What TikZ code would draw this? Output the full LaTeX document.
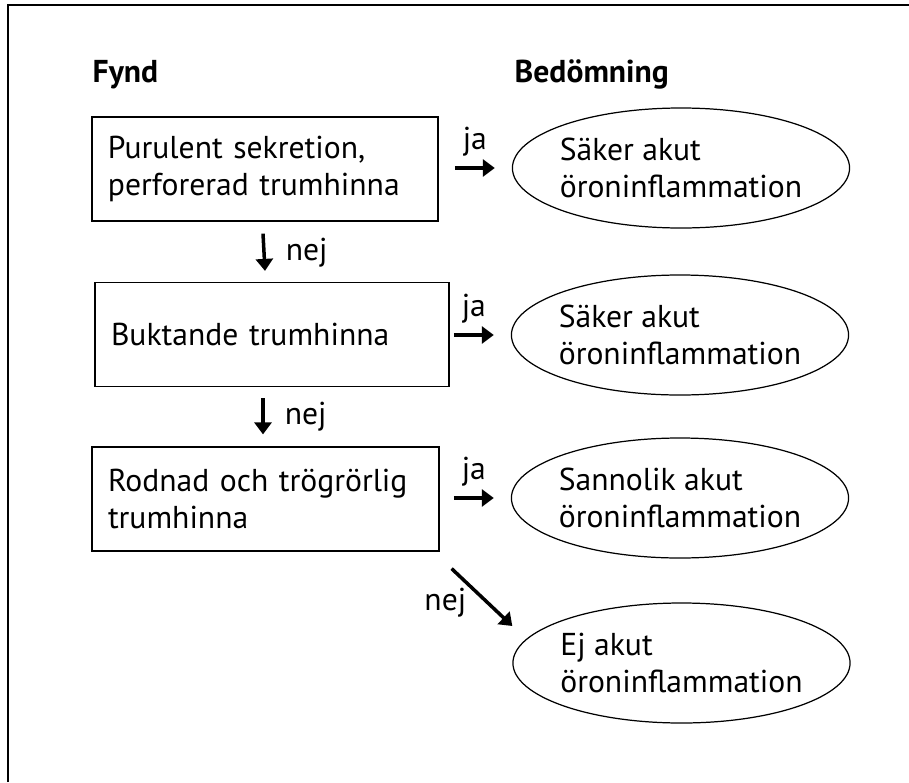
\documentclass[tikz,border=0pt]{standalone}
\usepackage{fontspec}
\setmainfont{PT Sans}
\usetikzlibrary{shapes.geometric,arrows.meta}
\tikzset{
  txt/.style={font=\fontsize{9}{10.7}\selectfont},
  fynd/.style={txt,draw,line width=0.35pt,rectangle,minimum height=1.04cm,inner xsep=0.16cm,align=left},
  bed/.style={txt,draw,line width=0.35pt,ellipse,inner xsep=-0.02cm,inner ysep=0pt,minimum width=3.34cm,minimum height=1.2cm,align=left},
  pil/.style={-{Triangle[length=0.12cm,width=0.17cm]},line width=0.035cm},
  lbl/.style={txt,inner sep=0.1cm}
}
\begin{document}
\begin{tikzpicture}
    \useasboundingbox (0,0) rectangle (9.09,-7.82);
    \draw[line width=0.35pt] (0.08,-7.82)--(0.08,-0.05)--(9.09,-0.05);
    \node[txt,font=\fontsize{9}{10.7}\selectfont\bfseries,anchor=base west,inner sep=0] (fynd) at (0.92,-0.82) {Fynd};
    \node[txt,font=\fontsize{9}{10.7}\selectfont\bfseries,anchor=base west,inner sep=0] (bedom) at (5.14,-0.82) {Bedömning};
    \node[fynd,text width=3.14cm] (b1) at (2.65,-1.69) {Purulent sekretion,\\perforerad trumhinna};
    \node[fynd,text width=3.22cm] (b2) at (2.72,-3.345) {Buktande trumhinna};
    \node[fynd,text width=3.15cm] (b3) at (2.655,-4.99) {Rodnad och trögrörlig\\trumhinna};
    \node[bed] (e1) at (6.81,-1.68) {Säker akut\\öroninflammation};
    \node[bed] (e2) at (6.80,-3.35) {Säker akut\\öroninflammation};
    \node[bed] (e3) at (6.80,-4.98) {Sannolik akut\\öroninflammation};
    \node[bed] (e4) at (6.815,-6.63) {Ej akut\\öroninflammation};
    \foreach \e in {e1,e2,e3}
    \draw[pil] ([xshift=-0.57cm]\e.west)--([xshift=-0.17cm]\e.west) node[lbl,midway,above] {ja};
    \draw[pil] ([xshift=-0.02cm,yshift=-0.12cm]b1.south)--([yshift=0.11cm]b2.north -| b1.south) node[lbl,midway,right=0.1cm] {nej};
    \draw[pil] ([xshift=-0.02cm,yshift=-0.11cm]b2.south -| b1.south)--([xshift=-0.02cm,yshift=0.12cm]b3.north -| b1.south) node[lbl,midway,right=0.1cm] {nej};
    \draw[pil] ([xshift=0.12cm,yshift=-0.17cm]b3.south east)--([yshift=0.37cm]e4.west) node[lbl,pos=0.6,left=0.1cm] {nej};
  \end{tikzpicture}
\end{document}
